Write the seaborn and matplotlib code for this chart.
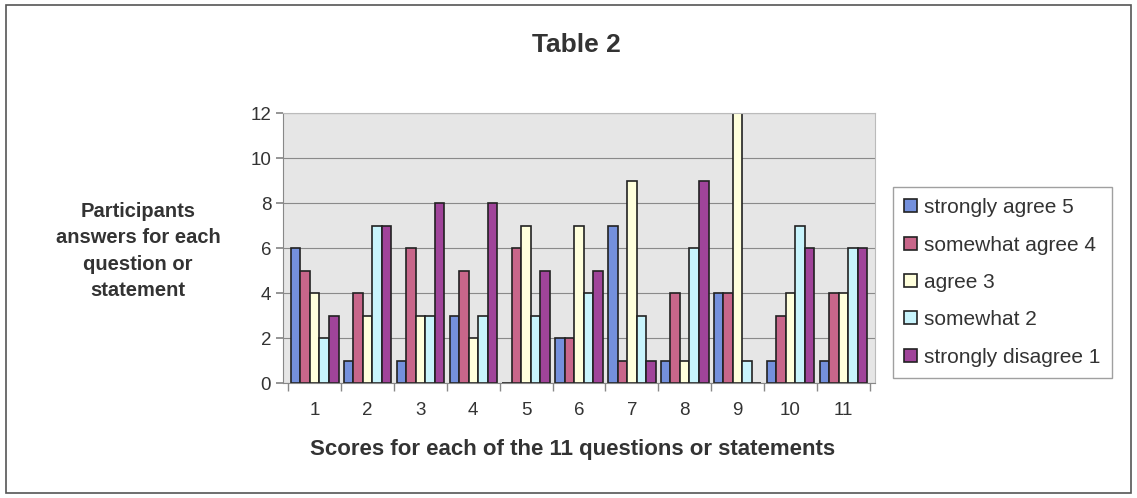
import matplotlib
matplotlib.use("Agg")
import matplotlib.pyplot as plt
import seaborn as sns
import pandas as pd
from matplotlib.patches import Rectangle

questions = ["1", "2", "3", "4", "5", "6", "7", "8", "9", "10", "11"]
strongly_agree_5 = [6, 1, 1, 3, 0, 2, 7, 1, 4, 1, 1]
somewhat_agree_4 = [5, 4, 6, 5, 6, 2, 1, 4, 4, 3, 4]
agree_3 = [4, 3, 3, 2, 7, 7, 9, 1, 12, 4, 4]
somewhat_2 = [2, 7, 3, 3, 3, 4, 3, 6, 1, 7, 6]
strongly_disagree_1 = [3, 7, 8, 8, 5, 5, 1, 9, 0, 6, 6]

series_names = ["strongly agree 5", "somewhat agree 4", "agree 3",
                "somewhat 2", "strongly disagree 1"]
series_values = [strongly_agree_5, somewhat_agree_4, agree_3,
                 somewhat_2, strongly_disagree_1]
colors = ["#7490dc", "#c8668a", "#ffffdc", "#c8f4fc", "#a0449a"]

rows = []
for name, vals in zip(series_names, series_values):
    for q, v in zip(questions, vals):
        rows.append({"question": q, "series": name, "value": v})
df = pd.DataFrame(rows)

sns.set_theme(style="white")
plt.rcParams["font.family"] = ["Liberation Sans", "DejaVu Sans"]

TXT = "#333333"
fig = plt.figure(figsize=(11.37, 4.98), dpi=100)
ax = fig.add_axes([283/1137, 1-383/498, (875-283)/1137, (383-113)/498])
ax.set_facecolor("#e6e6e6")

sns.barplot(data=df, x="question", y="value", hue="series",
            order=questions, hue_order=series_names, palette=colors,
            edgecolor="#222222", linewidth=1.2, width=0.9,
            saturation=1, ax=ax, legend=True)

ax.set_ylim(0, 12)
ax.set_xlim(-0.6, 10.6)
ax.set_yticks(range(0, 13, 2))
ax.yaxis.grid(True, color="#8a8a8a", linewidth=0.8)
ax.set_axisbelow(True)
ax.set_xlabel("")
ax.set_ylabel("")
for s in ["top", "right"]:
    ax.spines[s].set_color("#bbbbbb")
    ax.spines[s].set_linewidth(0.8)
for s in ["left", "bottom"]:
    ax.spines[s].set_color("#888888")
    ax.spines[s].set_linewidth(0.8)
ax.tick_params(axis="y", left=True, length=5, color="#888888", labelsize=13.5, labelcolor=TXT)
ax.tick_params(axis="x", bottom=False, labelsize=13.5, labelcolor=TXT, pad=8)
ax.set_xticks([i + 0.5 for i in range(-1, 11)], minor=True)
ax.tick_params(axis="x", which="minor", bottom=True, length=6, color="#888888")

handles, labels = ax.get_legend_handles_labels()
ax.get_legend().remove()
leg = fig.legend(handles, labels, loc="lower left",
                 bbox_to_anchor=(893/1137, 1-378/498), borderaxespad=0,
                 frameon=True, fontsize=15, labelspacing=0.88,
                 handlelength=0.6, handleheight=0.6, handletextpad=0.35,
                 borderpad=0.55, fancybox=False)
leg.get_frame().set_edgecolor("#888888")
leg.get_frame().set_linewidth(1.0)
for t in leg.get_texts():
    t.set_color(TXT)

fig.text(576/1137, 1-45/498, "Table 2", ha="center", va="center",
         fontsize=19, fontweight="bold", color=TXT)
fig.text(138/1137, 1-251/498, "Participants\nanswers for each\nquestion or\nstatement",
         ha="center", va="center", fontsize=14.5, fontweight="bold",
         color=TXT, linespacing=1.5)
fig.text(573/1137, 1-449/498, "Scores for each of the 11 questions or statements",
         ha="center", va="center", fontsize=16, fontweight="bold", color=TXT)

fig.patches.append(Rectangle((6/1137, 5/498), 1125/1137, 488/498,
                             transform=fig.transFigure, fill=False,
                             edgecolor="#555555", linewidth=1.2))

fig.savefig("out.png", dpi=100)
